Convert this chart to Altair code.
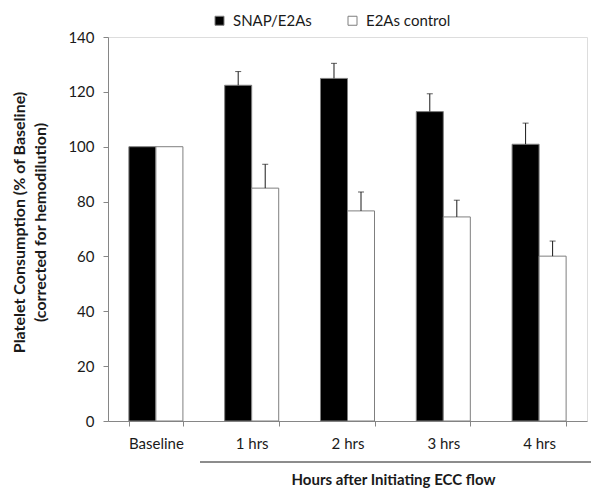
import altair as alt
import pandas as pd

categories = ["Baseline", "1 hrs", "2 hrs", "3 hrs", "4 hrs"]
series_names = ["SNAP/E2As", "E2As control"]
snap_values = [100, 122.4, 124.9, 112.8, 100.9]
snap_errors = [0, 5.0, 5.5, 6.5, 7.7]
ctrl_values = [100, 84.9, 76.6, 74.4, 60.1]
ctrl_errors = [0, 8.7, 6.9, 6.1, 5.5]
y_ticks = [0, 20, 40, 60, 80, 100, 120, 140]

rows = []
for i, c in enumerate(categories):
    rows.append({"cat": c, "series": series_names[0], "value": snap_values[i],
                 "upper": snap_values[i] + snap_errors[i], "err": snap_errors[i]})
    rows.append({"cat": c, "series": series_names[1], "value": ctrl_values[i],
                 "upper": ctrl_values[i] + ctrl_errors[i], "err": ctrl_errors[i]})
df = pd.DataFrame(rows)
err_df = df[df["err"] > 0]

FONT = "Lato"

x_enc = alt.X("cat:N", sort=categories,
              scale=alt.Scale(paddingInner=0.436, paddingOuter=0.218),
              axis=alt.Axis(title="Hours after Initiating ECC flow", labelAngle=0,
                            tickBand="extent", tickSize=5, labelPadding=10,
                            labelFontSize=15, labelFont=FONT, labelColor="#1a1a1a",
                            domainColor="#868686", tickColor="#868686",
                            titleFont=FONT, titleFontSize=15, titleFontWeight="bold",
                            titleColor="#1a1a1a", titleX=285, titleY=58,
                            titleBaseline="middle", titleAnchor="middle", titleAlign="center"))
xo_enc = alt.XOffset("series:N", sort=series_names,
                     scale=alt.Scale(paddingInner=0, paddingOuter=0))
y_scale = alt.Scale(domain=[0, 140], nice=False)

bars = alt.Chart(df).mark_bar(stroke="#7f7f7f", strokeWidth=1).encode(
    x=x_enc,
    xOffset=xo_enc,
    y=alt.Y("value:Q", scale=y_scale,
            axis=alt.Axis(values=y_ticks, grid=False, tickSize=5, labelPadding=9,
                          labelFontSize=15, labelFont=FONT, labelColor="#1a1a1a",
                          domainColor="#868686", tickColor="#868686",
                          title=["Platelet Consumption (% of Baseline)",
                                 "(corrected for hemodilution)"],
                          titleFont=FONT, titleFontSize=16, titleFontWeight="bold",
                          titleColor="#1a1a1a", titlePadding=19, titleLineHeight=21,
                          titleY=185)),
    fill=alt.Fill("series:N", sort=series_names,
                  scale=alt.Scale(domain=series_names, range=["#000000", "#ffffff"]),
                  legend=alt.Legend(orient="none", legendX=104, legendY=-24,
                                    direction="horizontal", title=None,
                                    symbolType="square", symbolSize=81,
                                    symbolStrokeColor="#7f7f7f", symbolStrokeWidth=1,
                                    labelFontSize=15, labelFont=FONT, labelColor="#1a1a1a",
                                    labelOffset=6, columnPadding=33)),
)

err_rules = alt.Chart(err_df).mark_rule(color="#1a1a1a", strokeWidth=1).encode(
    x=alt.X("cat:N", sort=categories),
    xOffset=alt.XOffset("series:N", sort=series_names),
    y=alt.Y("value:Q", scale=y_scale),
    y2="upper:Q",
)
err_caps = alt.Chart(err_df).mark_tick(color="#1a1a1a", thickness=1, size=6, orient="horizontal").encode(
    x=alt.X("cat:N", sort=categories),
    xOffset=alt.XOffset("series:N", sort=series_names),
    y=alt.Y("upper:Q", scale=y_scale),
)

bracket = alt.Chart(pd.DataFrame({"k": [0]})).mark_rule(color="#1a1a1a", strokeWidth=1).encode(
    x=alt.value(92), x2=alt.value(483), y=alt.value(425)
)

chart = alt.layer(bars, err_rules, err_caps, bracket).properties(
    width=479, height=384,
    autosize=alt.AutoSizeParams(type="none"),
    padding={"left": 100, "top": 29, "right": 6, "bottom": 68},
).configure_view(stroke=None).configure(background="white")

chart.save("out.html", embed_options={"renderer": "svg", "actions": False})
